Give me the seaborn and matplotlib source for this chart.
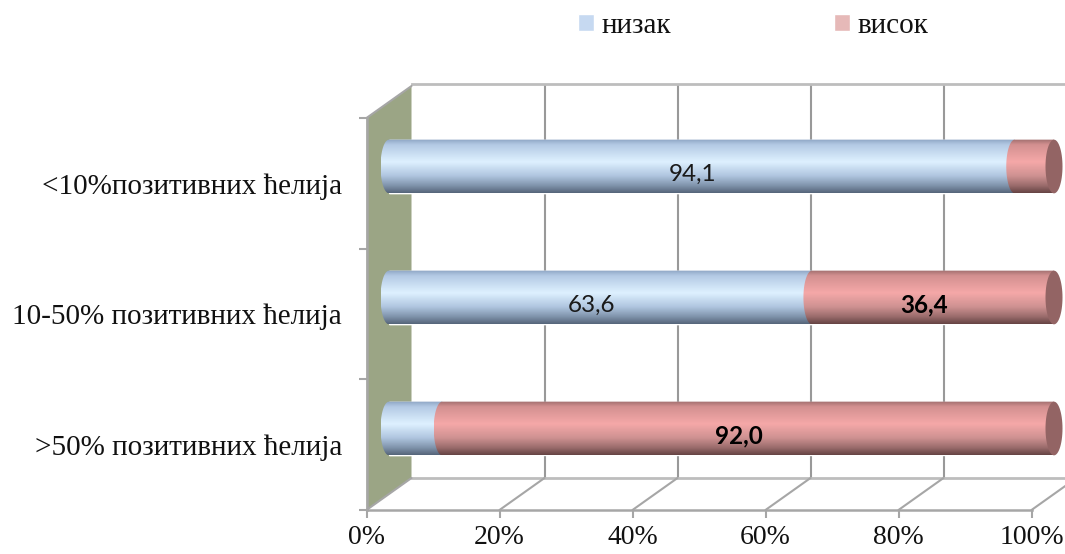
import numpy as np
import matplotlib
matplotlib.use("Agg")
import matplotlib.pyplot as plt
import seaborn as sns
from matplotlib.colors import LinearSegmentedColormap
from matplotlib.patches import Patch, PathPatch, Polygon
from matplotlib.path import Path

categories = ["<10%позитивних ћелија", "10-50% позитивних ћелија", ">50% позитивних ћелија"]
low = [94.1, 63.6, 8.0]
high = [5.9, 36.4, 92.0]
low_labels = ["94,1", "63,6", None]
high_labels = [None, "36,4", "92,0"]
x_ticks = [0, 20, 40, 60, 80, 100]
x_tick_labels = ["0%", "20%", "40%", "60%", "80%", "100%"]

W, H = 1065, 554
GRID = "#a6a6a6"
WALL = "#9ba585"

sns.set_theme(style="white")
plt.rcParams["font.family"] = ["Liberation Serif", "DejaVu Serif"]


def axes_at(fig, left, right, top, bottom, zorder):
    # position given in picture pixels
    ax = fig.add_axes([left / W, 1 - bottom / H, (right - left) / W, (bottom - top) / H], zorder=zorder)
    ax.set_xlim(0, 100)
    ax.set_ylim(2.5, -0.5)
    ax.patch.set_alpha(0)
    return ax


def cylinder_path(start, end, yc, height, bulge):
    t = np.linspace(np.pi / 2, 3 * np.pi / 2, 40)
    xs = start + bulge * np.cos(t)
    ys = yc + height / 2 * np.sin(t)
    verts = list(zip(xs, ys)) + [(end, yc - height / 2), (end, yc + height / 2), (xs[0], ys[0])]
    return Path(verts, closed=True)


def shade(ax, start, end, yc, height, bulge, cmap):
    gradient = np.linspace(0, 1, 128).reshape(-1, 1)
    y0, y1 = yc - height / 2, yc + height / 2
    im = ax.imshow(gradient, cmap=cmap, aspect="auto", origin="upper", zorder=3,
                   extent=(start - bulge, end, y1, y0), interpolation="bilinear")
    clip = PathPatch(cylinder_path(start, end, yc, height, bulge), transform=ax.transData, fc="none", ec="none",
                     clip_on=False)
    ax.add_patch(clip)
    im.set_clip_path(clip)
    im.set_clip_box(ax.figure.bbox)


def main():
    fig = plt.figure(figsize=(W / 100, H / 100), dpi=100, facecolor="white")

    back = axes_at(fig, 411.5, 1076.5, 84, 478, 1)
    front = axes_at(fig, 366.5, 1031.5, 118, 510, 2)
    bars = axes_at(fig, 389, 1054, 101, 494, 3)

    # back wall with the vertical grid
    back.set_xticks([20, 40, 60, 80])
    back.set_yticks([])
    back.tick_params(axis="x", length=0, labelbottom=False)
    back.grid(axis="x", color="#999999", lw=1.5)
    for name in ["top", "bottom"]:
        back.spines[name].set_color("#bdbdbd")
        back.spines[name].set_linewidth(2)
    for name in ["left", "right"]:
        back.spines[name].set_visible(False)

    # depth of the fake 3d box, in front axes units
    dx = 45 / 6.65
    dy = 32 / 130.7
    front.add_patch(Polygon([(0, -0.5), (dx, -0.5 - dy), (dx, 2.5 - dy), (0, 2.5)],
                            closed=True, fc=WALL, ec="none", clip_on=False, zorder=1))
    front.plot([0, dx], [-0.5, -0.5 - dy], color=GRID, lw=1.5, clip_on=False, zorder=2)
    for v in x_ticks:
        front.plot([v, v + dx], [2.5, 2.5 - dy], color=GRID, lw=1.5, clip_on=False, zorder=2)

    front.set_xticks(x_ticks)
    front.set_xticklabels(x_tick_labels, fontsize=20)
    front.set_yticks([-0.5, 0.5, 1.5, 2.5])
    front.set_yticklabels([])
    front.set_yticks([0.0, 1.0, 2.0], minor=True)
    front.set_yticklabels(categories, minor=True, fontsize=21, color="#111111")
    front.tick_params(axis="both", which="major", length=6, width=1.5, color=GRID, bottom=True, left=True)
    front.tick_params(axis="x", which="major", pad=5, labelcolor="#111111")
    front.tick_params(axis="y", which="minor", length=0, left=False, pad=17.5)
    for name in ["top", "right"]:
        front.spines[name].set_visible(False)
    for name in ["left", "bottom"]:
        front.spines[name].set_color(GRID)
        front.spines[name].set_linewidth(1.8)

    # flat stacked bars first, the shading goes on top of them
    totals = [a + b for a, b in zip(low, high)]
    sns.barplot(x=totals, y=categories, color="#f4a6a6", width=0.41, saturation=1, ax=bars, zorder=2)
    sns.barplot(x=low, y=categories, color="#c6d9f1", width=0.41, saturation=1, ax=bars, zorder=2)
    bars.axis("off")

    blue = LinearSegmentedColormap.from_list("blue", [
        (0, "#8ea5c4"), (0.1, "#b3c9e4"), (0.42, "#def1ff"), (0.68, "#b0c6e0"),
        (0.86, "#8195ad"), (1, "#56657a")])
    red = LinearSegmentedColormap.from_list("red", [
        (0, "#a06e6e"), (0.1, "#d39090"), (0.42, "#f5a8a8"), (0.68, "#cf9292"),
        (0.86, "#9c6d6d"), (1, "#664444")])

    height = 0.41
    bulge = 8.5 / 6.65
    for i in range(len(categories)):
        shade(bars, 0, low[i], i, height, bulge, blue)
        shade(bars, low[i], totals[i], i, height, bulge, red)
        t = np.linspace(0, 2 * np.pi, 60)
        bars.fill(totals[i] + bulge * np.cos(t), i + height / 2 * np.sin(t), color="#936464", lw=0, zorder=4, clip_on=False)

        if low_labels[i]:
            bars.annotate(low_labels[i], (low[i] / 2, i), xytext=(-6.5, -5.5), textcoords="offset points",
                          ha="center", va="center", fontsize=17.5, family="Lato", color="#1a1a1a", zorder=5)
        if high_labels[i]:
            bars.annotate(high_labels[i], (low[i] + high[i] / 2, i), xytext=(-6.5, -5.5), textcoords="offset points",
                          ha="center", va="center", fontsize=17.5, family="Lato", fontweight="bold",
                          color="black", zorder=5)
    bars.set_xlim(0, 100)
    bars.set_ylim(2.5, -0.5)

    handles = [Patch(fc="#c6d9f1", label="низак"), Patch(fc="#e6b9b8", label="висок")]
    fig.legend(handles=handles, ncol=2, loc="upper left", bbox_to_anchor=(578 / W, 1 - 13 / H), frameon=False,
               fontsize=21, handlelength=0.55, handleheight=0.55, handletextpad=0.24, columnspacing=5.6,
               borderpad=0, borderaxespad=0, labelcolor="#111111")

    fig.savefig("out.png", dpi=100, facecolor="white")


if __name__ == "__main__":
    main()
